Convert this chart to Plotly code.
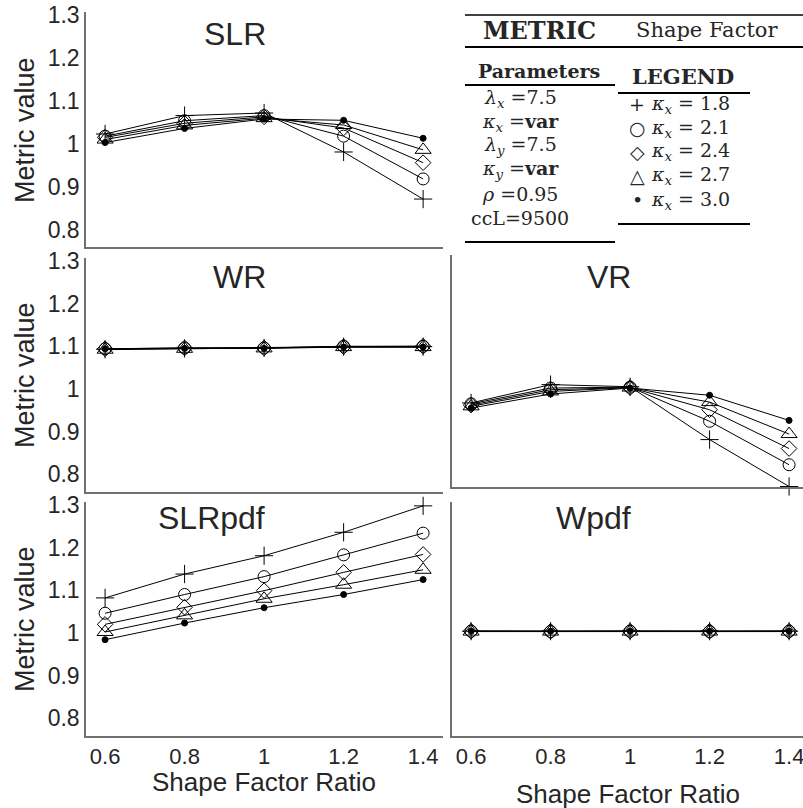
import plotly.graph_objects as go

W, H = 803, 808

shape_factor_ratio = [0.6, 0.8, 1.0, 1.2, 1.4]
kappa_labels = ["1.8", "2.1", "2.4", "2.7", "3.0"]
x_ticks = [0.6, 0.8, 1.0, 1.2, 1.4]
x_tick_text = ["0.6", "0.8", "1", "1.2", "1.4"]
y_ticks = [0.8, 0.9, 1.0, 1.1, 1.2, 1.3]
y_tick_text = ["0.8", "0.9", "1", "1.1", "1.2", "1.3"]

# one list per kappa_x series: 1.8, 2.1, 2.4, 2.7, 3.0
slr = [
    [1.023, 1.066, 1.072, 0.981, 0.871],
    [1.018, 1.054, 1.066, 1.018, 0.918],
    [1.015, 1.048, 1.063, 1.037, 0.956],
    [1.010, 1.043, 1.060, 1.044, 0.986],
    [1.003, 1.036, 1.058, 1.055, 1.013],
]
wr = [
    [1.093, 1.095, 1.096, 1.099, 1.099],
    [1.094, 1.096, 1.096, 1.100, 1.100],
    [1.094, 1.096, 1.096, 1.099, 1.100],
    [1.092, 1.094, 1.095, 1.098, 1.098],
    [1.094, 1.095, 1.095, 1.098, 1.098],
]
vr = [
    [0.963, 1.006, 1.001, 0.877, 0.767],
    [0.961, 0.998, 1.000, 0.920, 0.818],
    [0.958, 0.994, 0.999, 0.947, 0.856],
    [0.955, 0.990, 0.999, 0.965, 0.890],
    [0.951, 0.984, 0.998, 0.981, 0.922],
]
slrpdf = [
    [1.082, 1.138, 1.181, 1.236, 1.298],
    [1.046, 1.090, 1.132, 1.183, 1.234],
    [1.020, 1.060, 1.099, 1.142, 1.184],
    [1.002, 1.041, 1.080, 1.113, 1.148],
    [0.984, 1.023, 1.059, 1.090, 1.125],
]
wpdf = [
    [1.004, 1.004, 1.004, 1.004, 1.004],
    [1.004, 1.003, 1.004, 1.003, 1.004],
    [1.004, 1.004, 1.004, 1.004, 1.004],
    [1.003, 1.003, 1.003, 1.003, 1.003],
    [1.004, 1.004, 1.004, 1.004, 1.004],
]
panel_titles = ["SLR", "WR", "SLRpdf", "VR", "Wpdf"]
param_lines = [
    "<i>λ<sub>x</sub></i> =7.5",
    "<i>κ<sub>x</sub></i> =<b>var</b>",
    "<i>λ<sub>y</sub></i> =7.5",
    "<i>κ<sub>y</sub></i> =<b>var</b>",
    "<i>ρ</i> =0.95",
    "ccL=9500",
]
legend_glyphs = ["+", "○", "◇", "△", "•"]

symbols = ["cross-thin-open", "circle-open", "diamond-open", "triangle-up-open", "circle"]
sizes = [13, 12, 12, 14, 6]


def px(x):
    return x / W


def py(y):
    return 1 - y / H


fig = go.Figure()

# panel geometry (pixels): (x0, x1, ytop, ybottom), y range
panels = [
    (86, 443, 12, 247, [0.759, 1.308]),
    (86, 443, 257.6, 492, [0.758, 1.308]),
    (86, 443, 501.6, 736, [0.758, 1.308]),
    (452, 803, 255, 486.5, [0.767, 1.31]),
    (452, 803, 501.6, 736, [0.758, 1.308]),
]
datasets = [slr, wr, slrpdf, vr, wpdf]
xranges = [[0.552, 1.45], [0.552, 1.45], [0.552, 1.45], [0.552, 1.435], [0.552, 1.435]]

axis_color = "#707070"
text_color = "#262626"
sans = "Liberation Sans, Arial, sans-serif"
serif = "DejaVu Serif, serif"

for i, (data, (x0, x1, yt, yb, yr)) in enumerate(zip(datasets, panels)):
    n = "" if i == 0 else str(i + 1)
    for k, series in enumerate(data):
        fig.add_trace(go.Scatter(
            x=shape_factor_ratio, y=series, mode="lines+markers",
            xaxis="x" + n, yaxis="y" + n, cliponaxis=False,
            line=dict(color="black", width=1),
            marker=dict(symbol=symbols[k], size=sizes[k], color="black",
                        line=dict(color="black", width=1)),
            name="κx = " + kappa_labels[k], showlegend=False,
        ))
    show_x = i in (2, 4)
    show_y = i in (0, 1, 2)
    fig.layout["xaxis" + n] = dict(
        domain=[px(x0), px(x1)], range=xranges[i], anchor="y" + n, automargin=False,
        showgrid=False, zeroline=False, showline=True, linecolor=axis_color, linewidth=1.5,
        ticks="", tickvals=x_ticks, ticktext=x_tick_text, showticklabels=show_x,
        ticklabeloverflow="allow",
        tickfont=dict(family=sans, size=22, color=text_color),
    )
    fig.layout["yaxis" + n] = dict(
        domain=[py(yb), py(yt)], range=yr, anchor="x" + n, automargin=False,
        showgrid=False, zeroline=False, showline=True, linecolor=axis_color, linewidth=1.5,
        ticks="", tickvals=y_ticks, ticktext=y_tick_text, showticklabels=show_y,
        tickfont=dict(family=sans, size=23, color=text_color),
    )

annotations = []


def ann(x, y, text, size, family=sans, xanchor="center", angle=0, color=text_color):
    annotations.append(dict(
        x=px(x), y=py(y), xref="paper", yref="paper", text=text, showarrow=False,
        xanchor=xanchor, yanchor="middle", textangle=angle,
        font=dict(family=family, size=size, color=color),
    ))


# panel titles
title_pos = [(235, 34), (240, 277), (211, 518), (609, 277), (593, 518)]
for t, (x, y) in zip(panel_titles, title_pos):
    ann(x, y, t, 32)

# axis titles
for yc in [130, 375, 619]:
    ann(25, yc, "Metric value", 27, angle=-90)
ann(264, 782, "Shape Factor Ratio", 26)
ann(628, 794, "Shape Factor Ratio", 26)

# table text
ann(539, 30, "<b>METRIC</b>", 24, family=serif)
ann(707, 30, "Shape Factor", 21, family=serif)
ann(539, 71, "<b>Parameters</b>", 19, family=serif)
ann(683, 77, "<b>LEGEND</b>", 21, family=serif)
for j, t in enumerate(param_lines):
    ann(520, 98 + j * 24, t, 19, family=serif)
for j, (g, lab) in enumerate(zip(legend_glyphs, kappa_labels)):
    yy = 104 + j * 24
    ann(637, yy, g, 19, family=serif)
    ann(649, yy, "<i>κ<sub>x</sub></i> = " + lab, 19, family=serif, xanchor="left")

fig.update_layout(annotations=annotations)

shapes = []


def hline(x0, x1, y, w):
    shapes.append(dict(type="line", xref="paper", yref="paper",
                       x0=px(x0), x1=px(x1), y0=py(y), y1=py(y),
                       line=dict(color="black", width=w)))


hline(465, 803, 15, 1.5)
hline(465, 803, 47, 2.2)
hline(465, 615, 85, 2)
hline(618, 750, 93, 2)
hline(618, 750, 224, 2)
hline(465, 615, 242, 2.2)

fig.update_layout(
    shapes=shapes,
    width=W, height=H, margin=dict(l=0, r=0, t=0, b=0, autoexpand=False),
    paper_bgcolor="white", plot_bgcolor="white", showlegend=False,
)

fig.write_html("out.html", config={"displayModeBar": False},
               post_script="document.body.style.margin='0px';")
